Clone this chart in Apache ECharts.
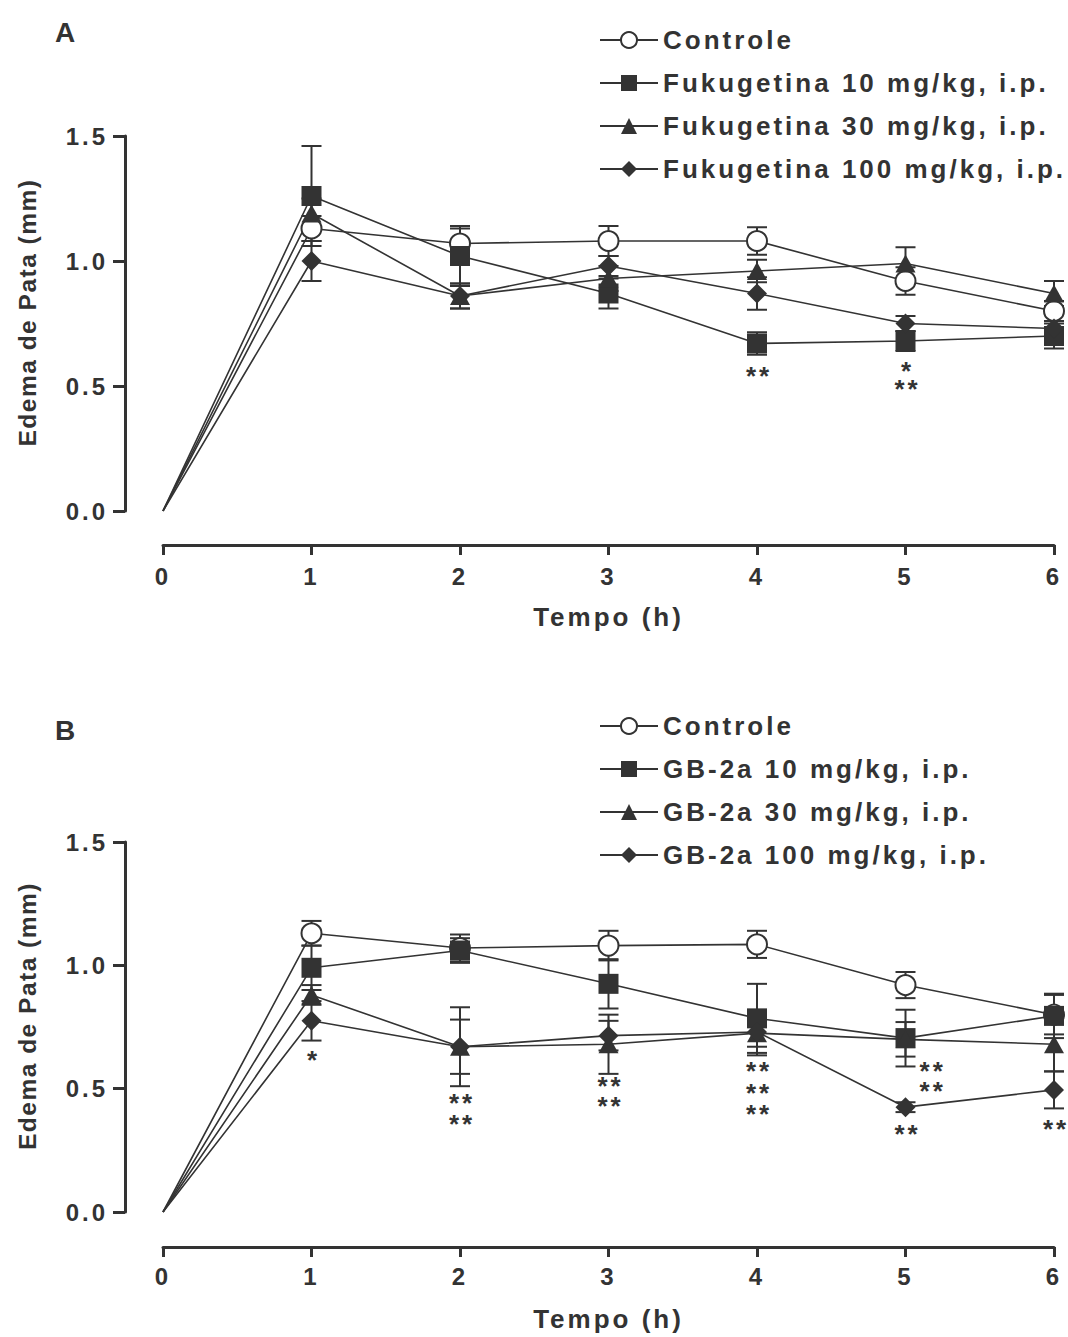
<!DOCTYPE html>
<html>
<head>
<meta charset="utf-8">
<script src="https://cdn.jsdelivr.net/npm/echarts@6/dist/echarts.min.js"></script>
<style>
html,body{margin:0;padding:0;background:#fff;}
#chart{width:1068px;height:1337px;letter-spacing:3px;}
#chart text[style*="24.5px"]{letter-spacing:1.5px;}
</style>
</head>
<body>
<div id="chart"></div>
<script>
'use strict';

var tempo=[0,1,2,3,4,5,6];
var ticksY=[0,0.5,1.0,1.5];

// painel A - fukugetina
var nomesA=['Controle','Fukugetina 10 mg/kg, i.p.','Fukugetina 30 mg/kg, i.p.','Fukugetina 100 mg/kg, i.p.'];
var controleA=[0,1.13,1.07,1.08,1.08,0.92,0.80];
var controleA_epm=[0,0.05,0.06,0.06,0.055,0.055,0.04];
var fuku10=[0,1.26,1.02,0.87,0.67,0.68,0.70];
var fuku10_epm=[0,0.20,0.12,0.06,0.045,0.04,0.05];
var fuku30=[0,1.19,0.86,0.93,0.96,0.99,0.87];
var fuku30_epm=[0,0.06,0.05,0.05,0.045,0.065,0.05];
var fuku100=[0,1.00,0.86,0.98,0.87,0.75,0.73];
var fuku100_epm=[0,0.08,0.05,0.04,0.065,0.03,0.03];
var asteriscosA=[[4,0.564,'**'],[5,0.584,'*'],[5,0.512,'**']];

// painel B - GB-2a
var nomesB=['Controle','GB-2a 10 mg/kg, i.p.','GB-2a 30 mg/kg, i.p.','GB-2a 100 mg/kg, i.p.'];
var controleB=[0,1.13,1.07,1.08,1.085,0.92,0.80];
var controleB_epm=[0,0.05,0.055,0.06,0.055,0.053,0.08];
var gb10=[0,0.99,1.06,0.925,0.785,0.705,0.795];
var gb10_epm=[0,0.09,0.05,0.10,0.14,0.115,0.09];
var gb30=[0,0.88,0.67,0.68,0.725,0.70,0.68];
var gb30_epm=[0,0.04,0.16,0.12,0.09,0.07,0.11];
var gb100=[0,0.775,0.67,0.715,0.73,0.425,0.495];
var gb100_epm=[0,0.08,0.11,0.06,0.06,0.02,0.075];
var asteriscosB=[[1,0.64,'*'],[2,0.467,'**'],[2,0.381,'**'],[3,0.535,'**'],[3,0.454,'**'],
    [4,0.596,'**'],[4,0.508,'**'],[4,0.42,'**'],[5.17,0.596,'**'],[5.17,0.515,'**'],[5,0.34,'**'],[6,0.362,'**']];

var COR='#333333';
var FONTE='"Liberation Sans", Arial, sans-serif';
var SIMBOLOS=['emptyCircle','rect','triangle','diamond'];
var TAMANHOS=[20,20,[20,18],20];

function dadosLinha(medias){
    return tempo.map(function(t,i){
        var item={value:[t,medias[i]]};
        if(i===0){item.symbol='none';}
        return item;
    });
}

function dadosBarra(medias,epm){
    var out=[];
    tempo.forEach(function(t,i){
        if(epm[i]>0){out.push([t,medias[i]-epm[i],medias[i]+epm[i]]);}
    });
    return out;
}

function renderBarra(params,api){
    var x=api.value(0);
    var pLo=api.coord([x,api.value(1)]);
    var pHi=api.coord([x,api.value(2)]);
    var w=10;
    var st={stroke:COR,lineWidth:2};
    return {type:'group',children:[
        {type:'line',shape:{x1:pLo[0],y1:pLo[1],x2:pHi[0],y2:pHi[1]},style:st},
        {type:'line',shape:{x1:pLo[0]-w,y1:pLo[1],x2:pLo[0]+w,y2:pLo[1]},style:st},
        {type:'line',shape:{x1:pHi[0]-w,y1:pHi[1],x2:pHi[0]+w,y2:pHi[1]},style:st}
    ]};
}

function serieAsteriscos(lista,idx){
    return {
        type:'custom',name:'ast'+idx,xAxisIndex:idx,yAxisIndex:idx,z:4,silent:true,
        data:lista.map(function(a){return [a[0],a[1]];}),
        renderItem:function(params,api){
            var p=api.coord([api.value(0),api.value(1)]);
            return {type:'text',x:p[0]+2,y:p[1]+6,style:{
                text:lista[params.dataIndex][2],textAlign:'center',textVerticalAlign:'middle',
                font:'bold 26px '+FONTE,fill:COR}};
        }
    };
}

function montarSeries(nomes,medias,epms,idx){
    var series=[];
    nomes.forEach(function(nome,k){
        series.push({
            type:'custom',name:'barra'+idx+'_'+k,xAxisIndex:idx,yAxisIndex:idx,z:1,silent:true,
            data:dadosBarra(medias[k],epms[k]),
            encode:{x:0,y:[1,2]},
            renderItem:renderBarra
        });
        series.push({
            type:'line',name:nome,xAxisIndex:idx,yAxisIndex:idx,z:3,
            data:dadosLinha(medias[k]),
            symbol:SIMBOLOS[k],symbolSize:TAMANHOS[k],showSymbol:true,
            lineStyle:{color:COR,width:1.6},
            itemStyle:{color:COR,borderColor:COR,borderWidth:k===0?2:0},
            emphasis:{disabled:true}
        });
    });
    return series;
}

function eixoX(idx,offset,margem){
    return {
        type:'value',gridIndex:idx,min:0,max:6,interval:1,offset:offset,
        name:'Tempo (h)',nameLocation:'middle',nameGap:59,
        nameTextStyle:{fontSize:26,fontWeight:'bold',color:COR,fontFamily:FONTE},
        axisLine:{show:true,onZero:false,lineStyle:{color:COR,width:3}},
        axisTick:{show:true,inside:false,length:10,lineStyle:{color:COR,width:3}},
        axisLabel:{margin:margem,fontSize:24,fontWeight:'bold',color:COR,fontFamily:FONTE},
        splitLine:{show:false}
    };
}

function eixoY(idx){
    return {
        type:'value',gridIndex:idx,min:ticksY[0],max:ticksY[ticksY.length-1],interval:0.5,offset:38,
        name:'Edema de Pata (mm)',nameLocation:'middle',nameGap:85,nameRotate:90,
        nameTextStyle:{fontSize:24.5,fontWeight:'bold',color:COR,fontFamily:FONTE,padding:[0,0,0,22]},
        axisLine:{show:true,onZero:false,lineStyle:{color:COR,width:3}},
        axisTick:{show:true,inside:false,length:12,lineStyle:{color:COR,width:3}},
        axisLabel:{margin:17,fontSize:24,fontWeight:'bold',color:COR,fontFamily:FONTE,
            formatter:function(v){return v.toFixed(1);}},
        splitLine:{show:false}
    };
}

function legenda(nomes,topo){
    return {
        data:nomes,orient:'vertical',left:594,top:topo,
        itemWidth:58,itemHeight:20,itemGap:17,selectedMode:false,
        textStyle:{fontSize:26,fontWeight:'bold',color:COR,fontFamily:FONTE}
    };
}

var chart=echarts.init(document.getElementById('chart'),null,{renderer:'svg'});

var series=[].concat(
    montarSeries(nomesA,[controleA,fuku10,fuku30,fuku100],[controleA_epm,fuku10_epm,fuku30_epm,fuku100_epm],0),
    montarSeries(nomesB,[controleB,gb10,gb30,gb100],[controleB_epm,gb10_epm,gb30_epm,gb100_epm],1),
    [serieAsteriscos(asteriscosA,0),serieAsteriscos(asteriscosB,1)]
);

chart.setOption({
    animation:false,
    backgroundColor:'#fff',
    title:[
        {text:'A',left:50,top:13,textStyle:{fontSize:28,fontWeight:'bold',color:COR,fontFamily:FONTE}},
        {text:'B',left:50,top:711,textStyle:{fontSize:28,fontWeight:'bold',color:COR,fontFamily:FONTE}}
    ],
    legend:[legenda(nomesA,22),legenda(nomesB,708)],
    grid:[
        {left:163,right:14,top:136,height:375},
        {left:163,right:14,top:842,height:370}
    ],
    xAxis:[eixoX(0,34,19),eixoX(1,35,17)],
    yAxis:[eixoY(0),eixoY(1)],
    series:series
});
</script>
</body>
</html>
